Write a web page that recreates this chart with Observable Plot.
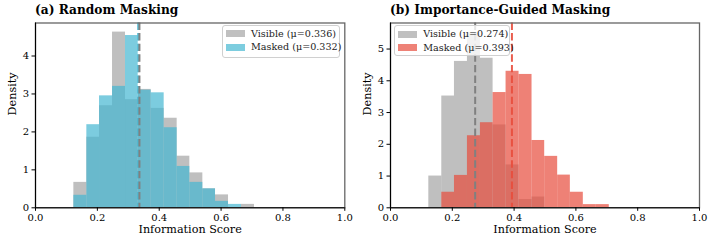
<!DOCTYPE html>
<html>
<head>
<meta charset="utf-8">
<script src="https://cdn.jsdelivr.net/npm/d3@7"></script>
<script src="https://cdn.jsdelivr.net/npm/@observablehq/plot@0.6"></script>
<style>
  html, body { margin: 0; padding: 0; background: #fff; }
  #wrap { position: relative; width: 714px; height: 245px; font-family: "DejaVu Serif", serif; }
  .panel { position: absolute; top: 0; width: 357px; height: 245px; }
  .title { position: absolute; top: 3px; font-weight: bold; font-size: 12.2px; white-space: nowrap; color: #000; }
  .plotbox { position: absolute; top: 22px; left: 0; }
  .legend { position: absolute; background: rgba(255,255,255,0.8); border: 1px solid #d0d0d0; border-radius: 3px; box-sizing: border-box; font-size: 9.6px; color: #222; }
  .legend .sw { position: absolute; width: 19px; height: 7px; }
  .legend .lb { position: absolute; line-height: 12px; white-space: nowrap; }
</style>
</head>
<body>
<div id="wrap"></div>
<script>
// ---------- data ----------
const binEdges = [0.124, 0.166, 0.207, 0.249, 0.291, 0.332, 0.374, 0.416, 0.458, 0.499, 0.541, 0.582, 0.624, 0.666, 0.708];

// (a) Random Masking — densities per bin
const visibleA = [0.67, 1.86, 2.69, 4.63, 2.85, 3.12, 2.62, 2.36, 1.36, 0.92, 0.50, 0.34, 0.00, 0.09];
const maskedA  = [0.33, 2.19, 2.95, 3.20, 4.54, 3.10, 3.03, 2.11, 1.09, 0.67, 0.50, 0.17, 0.09, 0.00];
const meansA = [0.336, 0.332];
const labelsA = ["Visible (μ=0.336)", "Masked (μ=0.332)"];
const titleA = "(a) Random Masking";

// (b) Importance-Guided Masking
const visibleB = [1.00, 3.52, 4.61, 5.50, 4.71, 2.61, 1.35, 0.26, 0.34, 0, 0, 0, 0, 0];
const maskedB  = [0.00, 0.49, 1.02, 2.27, 2.68, 3.63, 4.30, 4.20, 2.12, 1.62, 1.03, 0.49, 0.10, 0.10];
const meansB = [0.274, 0.393];
const labelsB = ["Visible (μ=0.274)", "Masked (μ=0.393)"];
const titleB = "(b) Importance-Guided Masking";

const xTicks = [0, 0.2, 0.4, 0.6, 0.8, 1.0];
const yTicksA = [0, 1, 2, 3, 4];
const yTicksB = [0, 1, 2, 3, 4, 5];
const xLabel = "Information Score";
const yLabel = "Density";

// ---------- styles ----------
const grayColor = "#808080", grayOpacity = 0.5;
const blueColor = "#45b7d1", redColor = "#e74c3c", colorOpacity = 0.7;

function bins(vals) {
  return vals.map((v, i) => ({x1: binEdges[i], x2: binEdges[i + 1], y: v})).filter(d => d.y > 0);
}

function panel({left, title, visible, masked, means, labels, color, yTicks, yMax, marginLeft, marginRight, legend}) {
  const p = document.createElement("div");
  p.className = "panel";
  p.style.left = left + "px";
  const t = document.createElement("div");
  t.className = "title";
  t.style.left = marginLeft + "px";
  t.textContent = title;
  p.appendChild(t);

  const chart = Plot.plot({
    width: 357,
    height: 223,
    marginLeft, marginRight,
    marginTop: 0.5,
    marginBottom: 37.7,
    style: {fontFamily: "DejaVu Serif", fontSize: "10px", color: "#000", background: "transparent"},
    x: {domain: [0, 1]},
    y: {domain: [0, yMax]},
    marks: [
      Plot.rectY(bins(visible), {x1: "x1", x2: "x2", y: "y", fill: grayColor, fillOpacity: grayOpacity, insetLeft: 0, insetRight: 0}),
      Plot.rectY(bins(masked), {x1: "x1", x2: "x2", y: "y", fill: color, fillOpacity: colorOpacity, insetLeft: 0, insetRight: 0}),
      Plot.ruleX([means[1]], {stroke: color, strokeWidth: 2, strokeDasharray: "7.4,3.2", strokeOpacity: 0.9}),
      Plot.ruleX([means[0]], {stroke: grayColor, strokeWidth: 2, strokeDasharray: "7.4,3.2"}),
      Plot.frame({stroke: "#666", strokeWidth: 1.3}),
      Plot.ruleX([0], {stroke: "#000", strokeWidth: 1.1}),
      Plot.ruleY([0], {stroke: "#000", strokeWidth: 1.1}),
      Plot.axisX({ticks: xTicks, tickFormat: d3.format(".1f"), tickSize: 3.5, tickPadding: 3, label: null, fontSize: 10}),
      Plot.axisY({ticks: yTicks, tickFormat: d3.format("d"), tickSize: 3.5, tickPadding: 3, label: null, fontSize: 10}),
      Plot.text([xLabel], {frameAnchor: "bottom", dy: 25, fontSize: 11.2, fill: "#000"}),
      Plot.text([yLabel], {frameAnchor: "left", dx: -23, rotate: -90, fontSize: 11.2, fill: "#000"})
    ]
  });
  const box = document.createElement("div");
  box.className = "plotbox";
  box.appendChild(chart);
  p.appendChild(box);

  // legend
  const lg = document.createElement("div");
  lg.className = "legend";
  lg.style.left = legend.x + "px";
  lg.style.top = legend.y + "px";
  lg.style.width = legend.w + "px";
  lg.style.height = legend.h + "px";
  const swColors = [d3.interpolateRgb("#fff", grayColor)(grayOpacity), d3.interpolateRgb("#fff", color)(colorOpacity)];
  labels.forEach((lab, i) => {
    const cy = legend.rows[i] - legend.y;
    const sw = document.createElement("div");
    sw.className = "sw";
    sw.style.left = (legend.swx - legend.x - 1) + "px";
    sw.style.top = (cy - 3.5 - 1) + "px";
    sw.style.background = swColors[i];
    lg.appendChild(sw);
    const lb = document.createElement("div");
    lb.className = "lb";
    lb.style.left = (legend.tx - legend.x - 1) + "px";
    lb.style.top = (cy - 6 - 1) + "px";
    lb.textContent = lab;
    lg.appendChild(lb);
  });
  p.appendChild(lg);
  return p;
}

const wrap = document.getElementById("wrap");
wrap.appendChild(panel({
  left: 0, title: titleA, visible: visibleA, masked: maskedA, means: meansA, labels: labelsA,
  color: blueColor, yTicks: yTicksA, yMax: 4.87, marginLeft: 35, marginRight: 12.7,
  legend: {x: 222, y: 25, w: 118, h: 33, swx: 226, tx: 251, rows: [33.7, 47.3]}
}));
wrap.appendChild(panel({
  left: 357, title: titleB, visible: visibleB, masked: maskedB, means: meansB, labels: labelsB,
  color: redColor, yTicks: yTicksB, yMax: 5.82, marginLeft: 33, marginRight: 15,
  legend: {x: 37, y: 25, w: 116, h: 31, swx: 40.7, tx: 66.3, rows: [34, 47.7]}
}));
</script>
</body>
</html>
